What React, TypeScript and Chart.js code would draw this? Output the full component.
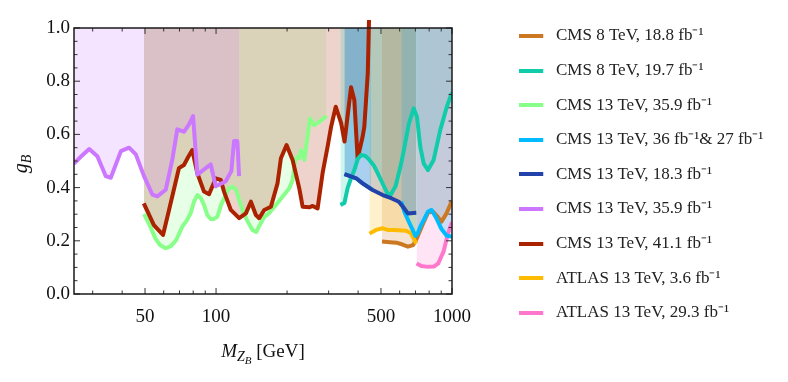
import React, { useEffect, useRef } from 'react';
import { Chart, registerables } from 'chart.js';

Chart.register(...registerables);

const SERIF = "'Liberation Serif', 'Times New Roman', serif";

// ---------------- series meta ----------------
const seriesLabels = [
  'CMS 8 TeV, 18.8 fb⁻¹',
  'CMS 8 TeV, 19.7 fb⁻¹',
  'CMS 13 TeV, 35.9 fb⁻¹',
  'CMS 13 TeV, 36 fb⁻¹& 27 fb⁻¹',
  'CMS 13 TeV, 18.3 fb⁻¹',
  'CMS 13 TeV, 35.9 fb⁻¹',
  'CMS 13 TeV, 41.1 fb⁻¹',
  'ATLAS 13 TeV, 3.6 fb⁻¹',
  'ATLAS 13 TeV, 29.3 fb⁻¹',
];
const seriesColors = [
  '204,119,34',
  '17,204,170',
  '136,255,136',
  '0,187,255',
  '34,68,170',
  '204,119,255',
  '170,34,0',
  '255,187,0',
  '255,119,204',
];
const drawOrder = [4, 5, 8, 1, 0, 6, 7, 3, 2];

// ---------------- data (M_ZB in GeV, g_B) ----------------
const cms8_188_mass = [505, 545.6, 580.6, 617.2, 650.3, 684.4, 709, 748.8, 790.7, 832.5, 871.5, 902.6, 947.8, 1000];
const cms8_188_g = [0.197, 0.195, 0.193, 0.186, 0.178, 0.184, 0.209, 0.259, 0.306, 0.309, 0.289, 0.272, 0.303, 0.35];

const cms8_197_mass = [336.5, 350, 361, 373.6, 385.5, 398.8, 412.8, 429.4, 446.7, 468, 490.4, 514, 531.2, 549.5, 577.1, 605.4, 625.3, 656, 688.3, 710.6, 734, 758.1, 790.9, 836.1, 892, 951, 1000];
const cms8_197_g = [0.335, 0.342, 0.398, 0.436, 0.466, 0.508, 0.523, 0.519, 0.504, 0.481, 0.444, 0.406, 0.38, 0.372, 0.406, 0.481, 0.541, 0.639, 0.698, 0.665, 0.553, 0.491, 0.466, 0.504, 0.617, 0.704, 0.758];

const cms13_359a_mass = [49.5, 52.5, 55.3, 57.9, 61.1, 64.4, 67.8, 71.9, 75.3, 78, 80.6, 83.3, 86.1, 88.9, 91.8, 94.9, 98.1, 101.3, 105, 109.9, 113.5, 117.3, 121.6, 125.3, 130.2, 135.9, 142.7, 148, 152.4, 160, 168, 179.4, 191.3, 204.4, 211.1, 216.6, 220.9, 225.3, 229.8, 236.7, 250.1, 260.4, 273.7, 293.6];
const cms13_359a_g = [0.3, 0.256, 0.209, 0.184, 0.172, 0.18, 0.203, 0.253, 0.278, 0.303, 0.346, 0.372, 0.361, 0.335, 0.297, 0.282, 0.282, 0.291, 0.335, 0.372, 0.398, 0.403, 0.391, 0.353, 0.308, 0.274, 0.241, 0.233, 0.256, 0.289, 0.305, 0.335, 0.366, 0.398, 0.429, 0.504, 0.515, 0.511, 0.541, 0.504, 0.66, 0.635, 0.647, 0.669];

const cms13_36_27_mass = [350, 367.6, 392.7, 418, 455, 530, 609.5, 628.9, 660.5, 681.2, 699.4, 715.4, 738.9, 763.4, 790.9, 819.6, 858.5, 902.6, 947.8, 1000];
const cms13_36_27_g = [0.451, 0.444, 0.435, 0.416, 0.394, null, 0.347, 0.308, 0.266, 0.241, 0.218, 0.228, 0.259, 0.282, 0.31, 0.316, 0.285, 0.244, 0.22, 0.215];

const cms13_183_mass = [350, 367.6, 392.7, 418, 460.8, 508.6, 552.6, 595.1, 619.6, 649.6, 705.8];
const cms13_183_g = [0.451, 0.444, 0.435, 0.416, 0.391, 0.372, 0.36, 0.347, 0.328, 0.303, 0.305];

const cms13_359b_mass = [25, 27, 29, 31.4, 34.1, 35.8, 39.5, 42.8, 45.7, 49.5, 53.7, 56.4, 61.2, 65.3, 68.5, 73.2, 76.8, 79.9, 83.3, 94.9, 99.7, 109.9, 116.1, 119.2, 123.1, 125.2];
const cms13_359b_g = [0.49, 0.52, 0.545, 0.518, 0.443, 0.437, 0.537, 0.55, 0.525, 0.443, 0.374, 0.367, 0.392, 0.506, 0.619, 0.61, 0.638, 0.669, 0.449, 0.487, 0.405, 0.424, 0.462, 0.575, 0.575, 0.443];

const cms13_411_mass = [49.4, 54.5, 59.6, 63.2, 69.6, 73.1, 76.3, 79.3, 83.3, 88.9, 93.4, 99.7, 104.7, 108.1, 115.5, 125.3, 133.8, 140.5, 147.5, 152.4, 160, 170.8, 182.2, 188.3, 199, 211.1, 225.3, 232.8, 248.3, 256.6, 269.4, 282.8, 297, 307.4, 321.5, 339, 350.5, 373.3, 385.5, 398.1, 418, 425.1, 439.6, 444.9];
const cms13_411_g = [0.341, 0.259, 0.222, 0.316, 0.473, 0.485, 0.516, 0.541, 0.454, 0.385, 0.375, 0.435, 0.429, 0.385, 0.316, 0.285, 0.303, 0.347, 0.297, 0.285, 0.316, 0.328, 0.416, 0.51, 0.56, 0.504, 0.397, 0.328, 0.326, 0.331, 0.322, 0.454, 0.554, 0.629, 0.704, 0.642, 0.573, 0.777, 0.729, 0.51, 0.591, 0.629, 0.83, 1.03];

const atlas13_36_mass = [446.7, 476.5, 508.6, 533.5, 569.7, 638.1, 670, 698.7, 706];
const atlas13_36_g = [0.227, 0.241, 0.247, 0.241, 0.241, 0.238, 0.228, 0.197, 0.19];

const atlas13_293_mass = [707.6, 741.7, 790.9, 837, 874.7, 899, 920.6, 961.8, 1000];
const atlas13_293_g = [0.115, 0.105, 0.102, 0.103, 0.115, 0.139, 0.159, 0.228, 0.27];

const seriesMass = [cms8_188_mass, cms8_197_mass, cms13_359a_mass, cms13_36_27_mass, cms13_183_mass, cms13_359b_mass, cms13_411_mass, atlas13_36_mass, atlas13_293_mass];
const seriesG = [cms8_188_g, cms8_197_g, cms13_359a_g, cms13_36_27_g, cms13_183_g, cms13_359b_g, cms13_411_g, atlas13_36_g, atlas13_293_g];

// ---------------- axes ----------------
const xMin = 25;
const xMax = 1000;
const xTickValues = [50, 100, 500, 1000];
const xMinorTickValues = [30, 40, 60, 70, 80, 90, 200, 300, 400, 600, 700, 800, 900];
const yTickValues = [0, 0.2, 0.4, 0.6, 0.8, 1.0];
const yMinorTickValues = [0.05, 0.1, 0.15, 0.25, 0.3, 0.35, 0.45, 0.5, 0.55, 0.65, 0.7, 0.75, 0.85, 0.9, 0.95];
const xTitleParts = ['M', 'Z', 'B', ' [GeV]'];
const yTitleParts = ['g', 'B'];

const LEGEND_FONT = 17;
const LEGEND_PAD = 17.6;
const LEGEND_WIDTH = 286.6;
const SWATCH_SLOT = 28.5;

function makeSwatch(color: string) {
  const c = document.createElement('canvas');
  c.width = 28;
  c.height = 4;
  const g = c.getContext('2d') as CanvasRenderingContext2D;
  g.fillStyle = color;
  g.fillRect(0, 0, 24, 4);
  return c;
}

const legendWidthPlugin = {
  id: 'legendWidth',
  afterInit(chart: any) {
    const lg = chart.legend;
    if (!lg) return;
    const orig = lg.fit.bind(lg);
    lg.fit = function () {
      orig();
      this.width = LEGEND_WIDTH;
    };
  },
};

const framePlugin = {
  id: 'frameTicks',
  afterDatasetsDraw(chart: any) {
    const { ctx, chartArea: a, scales } = chart;
    const sx = scales.x;
    const sy = scales.y;
    ctx.save();
    ctx.strokeStyle = '#333';
    ctx.lineWidth = 1;
    const seg = (x0: number, y0: number, x1: number, y1: number) => {
      ctx.beginPath();
      ctx.moveTo(x0, y0);
      ctx.lineTo(x1, y1);
      ctx.stroke();
    };
    const xt = (vals: number[], len: number) => vals.forEach((v) => {
      const p = sx.getPixelForValue(v);
      seg(p, a.bottom, p, a.bottom - len);
      seg(p, a.top, p, a.top + len);
    });
    const yt = (vals: number[], len: number) => vals.forEach((v) => {
      const p = sy.getPixelForValue(v);
      seg(a.left, p, a.left + len, p);
      seg(a.right, p, a.right - len, p);
    });
    xt(xTickValues, 6);
    xt(xMinorTickValues, 3.5);
    yt(yTickValues, 6);
    yt(yMinorTickValues, 3.5);
    ctx.strokeStyle = '#1a1a1a';
    ctx.lineWidth = 1.5;
    ctx.strokeRect(a.left, a.top, a.right - a.left, a.bottom - a.top);
    ctx.restore();
  },
};

const titlePlugin = {
  id: 'axisTitles',
  afterDraw(chart: any) {
    const { ctx, chartArea: a } = chart;
    ctx.save();
    ctx.fillStyle = '#111';
    ctx.textBaseline = 'alphabetic';
    ctx.textAlign = 'left';
    // x title: M_{Z_B} [GeV]
    const xs = [
      { t: xTitleParts[0], f: `italic 19px ${SERIF}`, dy: 0 },
      { t: xTitleParts[1], f: `italic 14px ${SERIF}`, dy: 4 },
      { t: xTitleParts[2], f: `italic 11px ${SERIF}`, dy: 7 },
      { t: xTitleParts[3], f: `19px ${SERIF}`, dy: 0 },
    ];
    let total = 0;
    xs.forEach((p) => { ctx.font = p.f; total += ctx.measureText(p.t).width; });
    let cx = (a.left + a.right) / 2 - total / 2;
    const base = a.bottom + 63;
    xs.forEach((p) => {
      ctx.font = p.f;
      ctx.fillText(p.t, cx, base + p.dy);
      cx += ctx.measureText(p.t).width;
    });
    // y title: g_B rotated
    const ys = [
      { t: yTitleParts[0], f: `italic 20px ${SERIF}`, dy: 0 },
      { t: yTitleParts[1], f: `italic 14px ${SERIF}`, dy: 4 },
    ];
    let ytot = 0;
    ys.forEach((p) => { ctx.font = p.f; ytot += ctx.measureText(p.t).width; });
    ctx.translate(a.left - 47, (a.top + a.bottom) / 2 + 3);
    ctx.rotate(-Math.PI / 2);
    let cy = -ytot / 2;
    ys.forEach((p) => {
      ctx.font = p.f;
      ctx.fillText(p.t, cy, p.dy);
      cy += ctx.measureText(p.t).width;
    });
    ctx.restore();
  },
};

function buildDatasets() {
  return seriesLabels.map((label, i) => ({
    label,
    data: seriesMass[i].map((m, j) => ({ x: m, y: seriesG[i][j] })),
    borderColor: `rgb(${seriesColors[i]})`,
    backgroundColor: `rgba(${seriesColors[i]},0.2)`,
    borderWidth: 4,
    pointRadius: 0,
    pointHoverRadius: 0,
    tension: 0,
    fill: 'end',
    spanGaps: false,
    borderJoinStyle: 'round',
    order: drawOrder[i],
    clip: { left: 0, top: 10, right: 0, bottom: 0 },
  }));
}

export default function App() {
  const ref = useRef<HTMLCanvasElement>(null);
  useEffect(() => {
    document.body.style.margin = '0';
    Chart.defaults.font.family = SERIF;
    const swatches = seriesColors.map((c) => makeSwatch(`rgb(${c})`));
    const chart = new Chart(ref.current as HTMLCanvasElement, {
      type: 'line',
      data: { datasets: buildDatasets() as any },
      options: {
        responsive: false,
        animation: false,
        devicePixelRatio: 1,
        layout: { padding: { top: 9.9, left: 0, right: 0, bottom: 0 } },
        scales: {
          x: {
            type: 'logarithmic',
            position: 'bottom',
            min: xMin,
            max: xMax,
            afterFit: (s: any) => { s.height = 88; },
            afterBuildTicks: (s: any) => { s.ticks = xTickValues.map((v) => ({ value: v })); },
            ticks: {
              callback: (v: any) => String(v),
              autoSkip: false,
              maxRotation: 0,
              padding: 12,
              color: '#111',
              font: { family: SERIF, size: 19 },
            },
            grid: { display: false, drawTicks: false },
            border: { display: false },
          },
          x2: {
            type: 'logarithmic',
            position: 'top',
            min: xMin,
            max: xMax,
            afterFit: (s: any) => { s.height = 18.1; },
            ticks: { display: false },
            grid: { display: false, drawTicks: false },
            border: { display: false },
          },
          y: {
            type: 'linear',
            position: 'left',
            min: 0,
            max: 1,
            afterFit: (s: any) => { s.width = 74; },
            afterBuildTicks: (s: any) => { s.ticks = yTickValues.map((v) => ({ value: v })); },
            ticks: {
              callback: (v: any) => Number(v).toFixed(1),
              padding: 4,
              color: '#111',
              font: { family: SERIF, size: 19 },
            },
            grid: { display: false, drawTicks: false },
            border: { display: false },
          },
          y2: {
            type: 'linear',
            position: 'right',
            min: 0,
            max: 1,
            afterFit: (s: any) => { s.width = 49.4; },
            ticks: { display: false },
            grid: { display: false, drawTicks: false },
            border: { display: false },
          },
        },
        plugins: {
          legend: {
            position: 'right',
            align: 'start',
            labels: {
              usePointStyle: true,
              pointStyleWidth: SWATCH_SLOT,
              boxHeight: 4,
              padding: LEGEND_PAD,
              color: '#222',
              font: { family: SERIF, size: LEGEND_FONT },
              generateLabels: (c: any) =>
                (Chart.defaults.plugins.legend.labels.generateLabels as any)(c).map((it: any) => ({
                  ...it,
                  pointStyle: swatches[it.datasetIndex],
                  fillStyle: it.strokeStyle,
                  lineWidth: 0,
                })),
              sort: (a: any, b: any) => a.datasetIndex - b.datasetIndex,
            },
          },
          tooltip: { enabled: false },
          filler: { drawTime: 'beforeDatasetsDraw', propagate: false },
        } as any,
      },
      plugins: [legendWidthPlugin, framePlugin, titlePlugin],
    } as any);
    return () => chart.destroy();
  }, []);
  return (
    <div style={{ width: 788, height: 382 }}>
      <canvas ref={ref} width={788} height={382} style={{ display: 'block' }} />
    </div>
  );
}
